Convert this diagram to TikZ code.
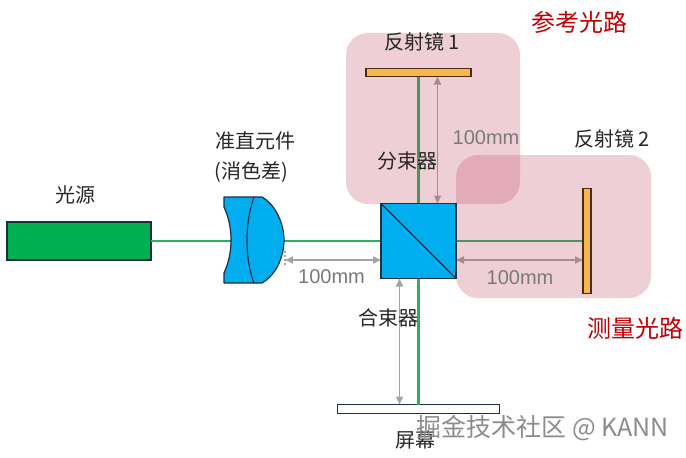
\documentclass[tikz,border=0pt]{standalone}
\usepackage{fontspec}
\setmainfont{Noto Sans CJK SC}
\newfontfamily\latinfont{Liberation Sans}
\usetikzlibrary{arrows.meta,positioning}
\definecolor{srcc}{HTML}{00B050}
\definecolor{beamc}{HTML}{2FAE60}
\definecolor{glass}{HTML}{00AEEF}
\definecolor{edgec}{HTML}{1B2F45}
\definecolor{mirr}{HTML}{F4B84F}
\definecolor{mirre}{HTML}{4A2C12}
\definecolor{dimc}{HTML}{A3A3A3}
\definecolor{zonec}{HTML}{C0405A}
\definecolor{redc}{HTML}{C00000}
\tikzset{
  part/.style={draw=#1,line width=1.2pt,inner sep=0pt,outer sep=0pt},
  slot/.style={inner sep=0pt,outer sep=0pt},
  mirrorface/.style={part=mirre,fill=mirr},
  zone/.style={fill=zonec,fill opacity=0.25,rounded corners=22pt,inner sep=0pt,outer sep=0pt},
  beam/.style={draw=beamc,line width=2.4pt},
  dim/.style={{Triangle[length=8pt,width=7pt]}-{Triangle[length=8pt,width=7pt]},draw=dimc,line width=1.8pt},
  lbl/.style={font=\fontsize{20}{24}\selectfont,inner sep=0pt,text=black!85},
  redlbl/.style={font=\fontsize{24}{28}\selectfont,inner sep=0pt,text=redc},
  dimlbl/.style={font=\fontsize{20}{24}\selectfont\latinfont,inner sep=0pt,text=black!52},
}
\begin{document}
\begin{tikzpicture}[x=1pt,y=-1pt]
  \useasboundingbox (0,0) rectangle (686,458);
  % parts on the optical axis
  \node[part=edgec,fill=srcc,minimum width=144pt,minimum height=38pt] (source) at (79,241) {};
  \node[slot,minimum size=75pt] (cube) at (418.5,241) {};
  \node[slot,minimum width=105pt,minimum height=8pt,above=127pt of cube] (mirror1) {};
  \node[slot,minimum width=8pt,minimum height=105pt,right=127pt of cube] (mirror2) {};
  \node[part=edgec,fill=white,minimum width=162pt,minimum height=9pt,below=126pt of cube] (screen) {};
  \coordinate (lenstip) at (285,260);
  \coordinate (lenstiptop) at (285,251);
  \coordinate (lenstipbot) at (285,266);
  % beams
  \draw[beam] (source.east) -- (mirror2.west);
  \draw[beam] (mirror1.south) -- (screen.north);
  % dimension arrows
  \draw[dim] ([xshift=19pt]mirror1.south) -- ([xshift=19pt]cube.north);
  \draw[dim] (lenstip) -- ([yshift=-19pt]cube.west);
  \draw[dim] ([yshift=-19pt]cube.east) -- ([yshift=-19pt]mirror2.west);
  \draw[dim] ([xshift=-19pt]cube.south) -- ([xshift=-19pt]screen.north);
  \draw[draw=dimc,line width=1.2pt,dash pattern=on 2pt off 2pt] (lenstiptop) -- (lenstipbot);
  % shaded paths
  \node[zone,minimum width=174pt,minimum height=171pt] (zone1) at (433,118.5) {};
  \node[zone,minimum width=195pt,minimum height=143pt] (zone2) at (553.5,226.5) {};
  % mirrors, cube and lens
  \draw[mirrorface] (mirror1.north west) rectangle (mirror1.south east);
  \draw[mirrorface] (mirror2.north west) rectangle (mirror2.south east);
  \draw[part=edgec,fill=glass] (cube.north west) rectangle (cube.south east);
  \draw[edgec,line width=1.2pt] (cube.north west) -- (cube.south east);
  \draw[part=edgec,fill=glass,line join=round] (224,197) -- (262,197)
    .. controls (276,205) and (284,224) .. (284,240)
    .. controls (284,257) and (276,275) .. (262,283) -- (224,283) -- (224,273)
    .. controls (229,262) and (231,251) .. (231,240)
    .. controls (231,229) and (229,218) .. (224,207) -- cycle;
  \draw[edgec,line width=1.2pt] (254,197) .. controls (249,211) and (247,226) .. (247,240)
    .. controls (247,255) and (249,270) .. (254,283);
  % labels
  \node[lbl] (lsource) at (75,195) {光源};
  \node[lbl] (llens) at (255,141) {准直元件};
  \node[lbl] (lachro) at (251,172) {(消色差)};
  \node[lbl] (lsplit) at (407,161) {分束器};
  \node[lbl] (lmirror1) at (422,42) {反射镜 1};
  \node[lbl] (lmirror2) at (612,139) {反射镜 2};
  \node[lbl] (lmerge) at (388,318) {合束器};
  \node[lbl] (lscreen) at (415,440) {屏幕};
  \node[redlbl] (lref) at (579,22) {参考光路};
  \node[redlbl] (lmeas) at (635,328) {测量光路};
  \node[dimlbl] (d1) at (486,138) {100mm};
  \node[dimlbl] (d2) at (331.5,277) {100mm};
  \node[dimlbl] (d3) at (520,278) {100mm};
  \node[font=\fontsize{25}{28}\selectfont,inner sep=0pt,text=black!45] (mark) at (543,428) {掘金技术社区 @ KANN};
\end{tikzpicture}
\end{document}
